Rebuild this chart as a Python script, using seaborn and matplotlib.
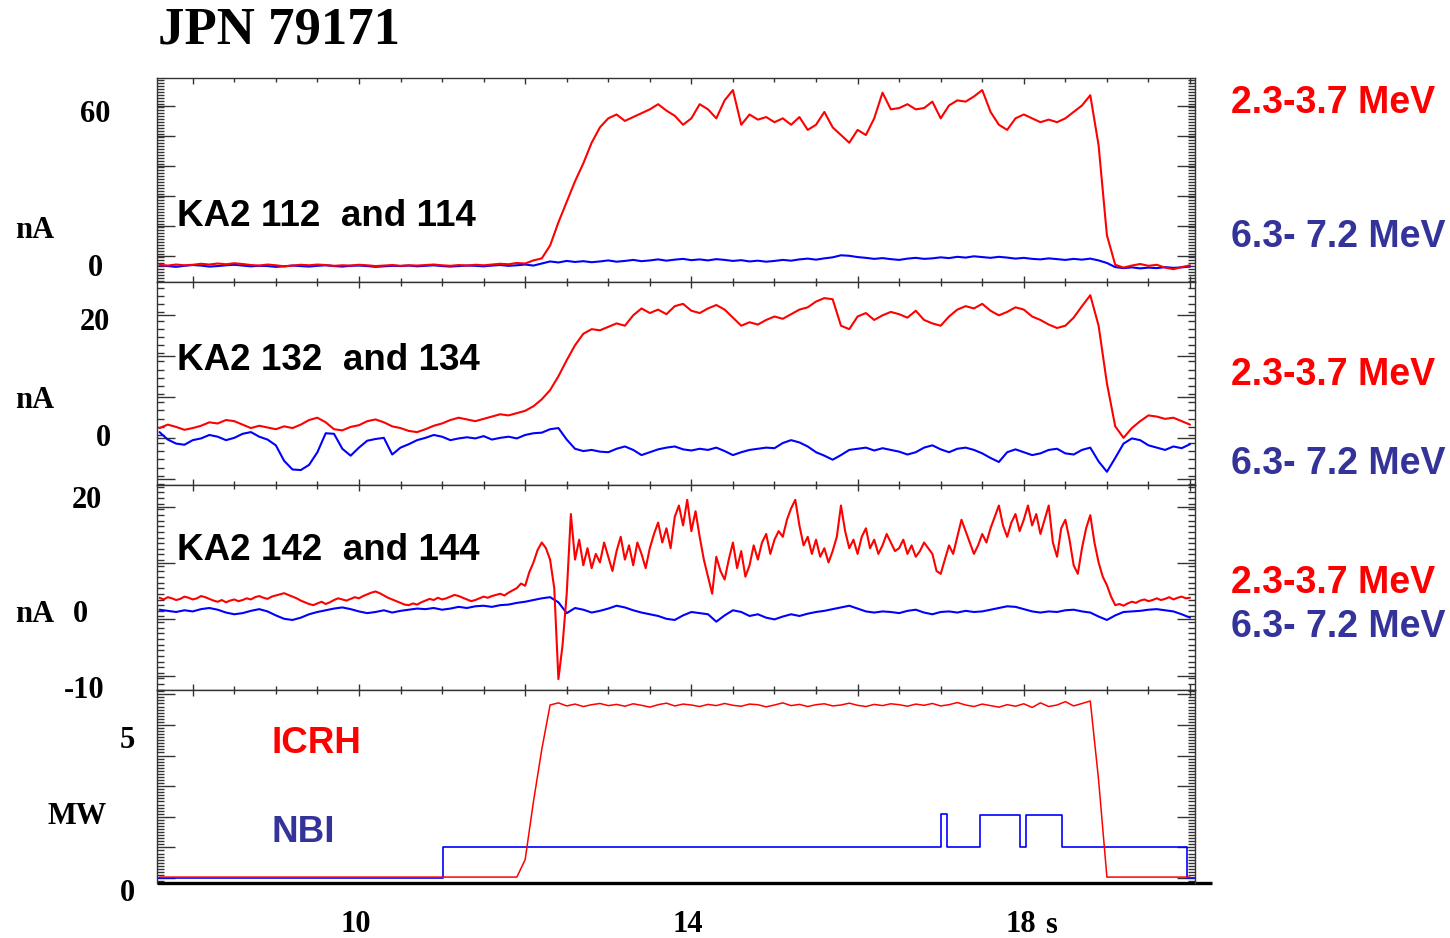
import numpy as np
import pandas as pd
import matplotlib
matplotlib.use("Agg")
import matplotlib.pyplot as plt
from matplotlib.ticker import MultipleLocator, NullFormatter
import matplotlib.transforms as mtransforms
import seaborn as sns

# ---------------------------------------------------------------------------
# Signals (time in s, currents in nA, powers in MW)
# Coarse traces are sampled every 0.1 s from 7.6 s, the fast KA2 142 trace
# every 0.05 s.
# ---------------------------------------------------------------------------
T0 = 7.6
DT = 0.1
DT_FINE = 0.05

# KA2 112 (2.3-3.7 MeV) and KA2 114 (6.3-7.2 MeV)
ka2_112 = [
    0.4, 0.2, 0.6, 0.3, 0.5, 0.9, 0.6, 1.0, 0.7, 1.1,
    0.8, 0.4, 0.2, 0.6, 0.3, -0.1, 0.2, 0.5, 0.3, 0.6,
    0.4, 0.1, 0.3, 0.2, 0.5, 0.3, 0.0, 0.2, 0.4, 0.1,
    0.3, 0.2, 0.4, 0.6, 0.3, 0.1, 0.4, 0.2, 0.5, 0.3,
    0.6, 0.9, 0.7, 1.2, 1.0, 2.2, 3.0, 8.0, 17.0, 25.0,
    33.0, 40.0, 48.0, 54.0, 57.5, 59.0, 56.5, 58.0, 59.5, 61.0,
    63.0, 60.5, 58.5, 55.0, 57.5, 63.0, 61.0, 57.5, 64.5, 68.5,
    55.0, 59.0, 57.0, 58.0, 56.0, 57.5, 55.0, 58.0, 53.0, 55.0,
    60.0, 54.0, 51.0, 48.0, 53.0, 51.0, 57.5, 67.5, 61.0, 61.5,
    63.0, 61.0, 61.5, 64.0, 57.5, 62.5, 64.5, 64.0, 66.0, 68.5,
    60.0, 55.0, 53.0, 57.5, 59.0, 57.5, 56.0, 57.0, 56.0, 57.5,
    60.0, 62.5, 66.5, 47.0, 12.0, 0.5, -0.6, 0.2, 0.8, 0.1,
    0.5, -0.6, -1.2, -0.4, 0.3,
]
ka2_114 = [
    0.3, 0.0, -0.3, 0.1, 0.4, 0.2, -0.2, 0.0, 0.3, 0.5,
    0.2, -0.1, 0.1, 0.0, -0.3, -0.1, 0.2, 0.0, -0.2, 0.1,
    0.3, 0.0, -0.2, 0.1, 0.2, 0.0, -0.3, -0.1, 0.1, 0.0,
    0.2, -0.1, 0.1, 0.3, 0.0, -0.2, 0.0, 0.2, 0.1, -0.1,
    0.2, 0.4, 0.1, 0.3, 0.6, 0.2, 1.0, 1.8, 1.4, 2.0,
    1.6, 1.9, 1.5, 1.8, 2.2, 1.7, 2.0, 2.4, 1.9, 2.2,
    2.6, 2.1, 2.5, 2.8, 2.3, 2.6, 2.2, 2.7, 2.4, 2.0,
    2.3, 1.8, 2.1, 1.7, 2.0, 2.4, 2.1, 2.6, 2.9, 2.5,
    3.0, 3.4, 4.2, 4.0, 3.5, 3.2, 2.8, 3.1, 2.7, 2.4,
    2.9, 3.2, 2.8, 3.0, 3.4, 3.1, 3.6, 3.3, 3.8, 3.5,
    3.2, 3.6, 3.3, 2.9, 3.2, 2.8, 2.6, 3.0, 2.7, 2.4,
    2.8, 2.5, 2.9, 2.2, 1.2, -0.4, -0.8, -0.5, -0.9, -0.6,
    -0.8, -0.4, -0.7, -0.5, -0.2,
]

# KA2 132 (2.3-3.7 MeV) and KA2 134 (6.3-7.2 MeV)
ka2_132 = [
    1.2, 1.8, 1.4, 0.9, 1.2, 1.6, 2.2, 2.0, 2.6, 2.4,
    1.8, 1.2, 1.6, 1.3, 1.0, 1.5, 1.2, 1.8, 2.6, 3.0,
    2.2, 1.0, 0.8, 1.4, 1.7, 2.4, 2.7, 2.2, 1.5, 1.2,
    0.7, 0.5, 1.0, 1.6, 2.0, 2.6, 3.0, 2.7, 2.4, 2.8,
    3.2, 3.6, 3.4, 3.8, 4.2, 5.0, 6.2, 7.8, 10.2, 13.0,
    15.6, 17.6, 18.4, 18.2, 18.8, 19.4, 19.0, 20.8, 22.0, 21.2,
    21.8, 21.0, 22.4, 22.8, 21.6, 21.2, 22.0, 22.6, 21.8, 20.4,
    19.0, 19.6, 19.2, 20.0, 20.6, 20.2, 21.0, 21.8, 22.2, 23.2,
    23.8, 23.6, 19.0, 18.4, 20.6, 21.2, 20.0, 20.8, 21.4, 21.0,
    20.4, 21.6, 20.0, 19.4, 19.0, 20.6, 21.8, 22.4, 22.0, 22.8,
    21.6, 20.8, 21.4, 22.2, 21.8, 20.6, 20.0, 19.2, 18.6, 19.0,
    20.4, 22.4, 24.3, 19.0, 9.0, 1.5, -0.5, 1.2, 2.4, 3.4,
    3.2, 2.8, 3.0, 2.4, 1.8,
]
ka2_134 = [
    0.5, -0.8, -1.5, -1.7, -0.9, -0.6, 0.0, -0.3, -0.9, -0.5,
    0.2, 0.5, -0.3, -0.8, -1.8, -4.5, -6.0, -6.1, -5.2, -3.0,
    0.3, 0.2, -2.4, -3.6, -2.2, -1.0, -0.7, -0.5, -3.4, -2.2,
    -1.6, -0.9, -0.5, 0.0, -0.3, -0.9, -0.6, -0.4, -0.6, -0.2,
    -0.8, -0.5, -0.3, -0.6, 0.0, 0.3, 0.4, 1.0, 1.2, -0.8,
    -2.4, -2.8, -2.6, -2.9, -3.0, -2.4, -2.0, -2.6, -3.5, -3.0,
    -2.5, -2.2, -2.0, -2.5, -2.7, -2.4, -2.6, -2.2, -2.8, -3.5,
    -3.0, -2.6, -2.4, -2.2, -2.3, -1.4, -0.9, -1.3, -2.0, -3.0,
    -3.6, -4.3, -3.5, -2.6, -2.4, -2.2, -2.7, -2.3, -2.6, -2.9,
    -3.4, -3.0, -2.2, -1.8, -2.5, -3.0, -2.4, -2.2, -2.6, -3.2,
    -4.0, -4.7, -3.0, -2.5, -3.0, -3.5, -3.2, -2.6, -2.4, -3.2,
    -3.4, -2.6, -2.2, -4.6, -6.4, -4.0, -1.5, -0.6, -0.9, -1.8,
    -2.2, -2.6, -2.0, -2.3, -1.6,
]

# KA2 142 (2.3-3.7 MeV, 0.05 s samples) and KA2 144 (6.3-7.2 MeV)
ka2_142 = [
    2.3, 2.0, 2.4, 2.2, 1.9, 2.1, 2.5, 2.3, 2.0, 2.2,
    2.6, 2.4, 2.1, 1.8, 1.6, 1.9, 1.5, 1.8, 2.0, 1.7,
    1.9, 2.2, 2.0, 2.4, 2.6, 2.3, 2.1, 2.5, 2.7, 2.9,
    3.1, 2.8, 2.5, 2.2, 1.8, 1.5, 1.2, 1.0, 1.3, 1.6,
    1.2, 1.5, 1.9, 2.2, 2.0, 1.8, 2.1, 2.4, 2.2, 2.6,
    2.9, 3.2, 3.4, 3.1, 2.7, 2.3, 2.0, 1.7, 1.4, 1.1,
    1.0, 1.3, 1.1, 1.5, 1.8, 2.1, 1.9, 2.3, 2.0, 2.2,
    2.5, 2.8, 2.6, 2.3, 2.0, 1.7, 1.9, 2.2, 2.5, 2.3,
    2.6, 2.8, 3.0, 2.7, 3.2, 3.6, 4.0, 4.8, 4.4, 6.8,
    8.5, 10.7, 12.0, 11.0, 9.0, 4.0, -12.0, -6.0, 3.0, 17.0,
    9.0, 12.5, 8.0, 11.0, 7.5, 10.0, 8.5, 12.0, 9.5, 7.0,
    10.5, 13.0, 9.0, 11.5, 8.0, 12.0, 10.0, 7.5, 11.0, 13.5,
    15.5, 12.0, 14.5, 11.0, 16.5, 18.5, 15.0, 19.5, 14.0, 17.5,
    13.0, 9.0, 6.0, 3.0, 9.5, 7.0, 5.5, 9.0, 12.0, 7.5,
    10.5, 6.0, 8.0, 11.5, 9.0, 12.0, 13.5, 10.0, 12.5, 14.0,
    13.0, 16.0, 18.0, 19.5, 15.0, 11.5, 13.0, 10.0, 12.5, 9.5,
    11.0, 8.5, 10.5, 13.0, 18.5, 14.0, 11.0, 12.5, 10.0, 13.0,
    14.5, 11.0, 12.5, 10.0, 11.5, 13.5, 12.0, 10.5, 11.0, 12.5,
    10.0, 11.5, 9.5, 10.5, 12.0, 11.0, 10.0, 7.0, 6.5, 9.0,
    11.5, 10.0, 13.0, 16.0, 14.0, 12.0, 10.0, 11.5, 13.5, 12.0,
    14.5, 16.5, 18.5, 15.0, 13.0, 15.5, 17.0, 14.0, 16.0, 18.5,
    15.0, 17.0, 13.5, 16.0, 18.5, 12.0, 9.5, 14.5, 16.0, 12.5,
    8.0, 6.5, 11.0, 14.5, 16.8, 12.0, 8.5, 6.0, 4.5, 2.5,
    1.0, 1.2, 0.9, 1.3, 1.6, 1.4, 1.8, 2.0, 1.7, 1.9,
    2.2, 1.9, 2.1, 2.4, 2.0, 2.3, 2.5, 2.2, 2.3,
]
ka2_144 = [
    0.2, 0.0, -0.2, 0.1, -0.1, 0.3, 0.5, 0.2, -0.3, -0.6,
    -0.4, 0.0, 0.3, -0.1, -0.8, -1.4, -1.6, -1.2, -0.6, -0.2,
    0.1, 0.4, 0.6, 0.3, -0.1, -0.4, -0.2, 0.1, -0.3, 0.0,
    0.2, 0.4, 0.3, 0.5, 0.2, 0.4, 0.7, 0.5, 0.8, 0.9,
    0.7, 1.0, 1.1, 1.4, 1.6, 1.9, 2.2, 2.4, 1.5, -0.4,
    0.5, 0.2, -0.3, 0.0, 0.4, 0.9, 0.6, 0.1, -0.3, -0.6,
    -0.9, -1.4, -1.6, -0.8, -0.2, -0.4, -0.6, -1.9, -0.8, 0.1,
    -0.2, -0.9, -0.6, -1.2, -1.5, -1.0, -0.6, -0.9, -0.5, -0.2,
    0.0, 0.3, 0.6, 0.9, 0.4, -0.1, -0.3, -0.1, -0.2, -0.4,
    0.0, 0.2, -0.3, -0.6, -0.2, -0.1, -0.3, 0.0, -0.2, -0.1,
    0.2, 0.5, 0.8, 0.7, 0.3, -0.1, -0.3, -0.1, -0.2, 0.1,
    0.2, -0.1, -0.3, -1.0, -1.6, -0.8, -0.2, -0.1, 0.0, 0.2,
    0.3, 0.1, -0.1, -0.6, -1.2,
]

# Heating powers
icrh_mw = [
    0.03, 0.03, 0.03, 0.03, 0.03, 0.03, 0.03, 0.03, 0.03, 0.03,
    0.03, 0.03, 0.03, 0.03, 0.03, 0.03, 0.03, 0.03, 0.03, 0.03,
    0.03, 0.03, 0.03, 0.03, 0.03, 0.03, 0.03, 0.03, 0.03, 0.03,
    0.03, 0.03, 0.03, 0.03, 0.03, 0.03, 0.03, 0.03, 0.03, 0.03,
    0.03, 0.03, 0.03, 0.03, 0.6, 2.5, 4.2, 5.65, 5.72, 5.62,
    5.68, 5.60, 5.66, 5.70, 5.63, 5.67, 5.61, 5.69, 5.64, 5.58,
    5.66, 5.71, 5.62, 5.68, 5.65, 5.60, 5.67, 5.63, 5.70, 5.64,
    5.61, 5.68, 5.66, 5.59, 5.65, 5.72, 5.63, 5.67, 5.60, 5.66,
    5.69, 5.62, 5.65, 5.71, 5.64, 5.60, 5.67, 5.63, 5.69, 5.66,
    5.61, 5.68, 5.64, 5.70, 5.62, 5.66, 5.73, 5.65, 5.60, 5.68,
    5.63, 5.58, 5.66, 5.61, 5.69, 5.57, 5.72, 5.60, 5.65, 5.76,
    5.62, 5.70, 5.78, 3.2, 0.03, 0.03, 0.03, 0.03, 0.03, 0.03,
    0.03, 0.03, 0.03, 0.03, 0.03,
]
nbi_time = [7.57, 11.01, 17.0, 17.08, 17.47, 17.96, 18.03, 18.46, 19.96, 20.06]
nbi_mw = [0.0, 1.0, 2.08, 1.0, 2.05, 1.0, 2.05, 1.0, 0.0, 0.0]

# Axis annotations
x_tick_values = [10, 14, 18]
x_tick_labels = ["10", "14", "18"]
panel_titles = ["KA2 112  and 114", "KA2 132  and 134", "KA2 142  and 144"]
energy_low = "2.3-3.7 MeV"
energy_high = "6.3- 7.2 MeV"


def frame(values, step):
    t = np.round(T0 + step * np.arange(len(values)), 3)
    return pd.DataFrame({"t": t, "v": values})


RED = "#ff0000"
BLUE = "#0000ff"
NAVY = "#333399"
AXC = "#333333"
W, H = 1450, 938

sns.set_theme(style="white")
plt.rcParams["font.family"] = ["Liberation Sans", "DejaVu Sans"]
plt.rcParams["text.color"] = "black"

fig = plt.figure(figsize=(W / 100, H / 100), dpi=100)


def rect(top, bottom, left=157, right=1195):
    return [left / W, 1 - bottom / H, (right - left) / W, (bottom - top) / H]


def ftext(x, y, s, **kw):
    # y is the visual centre of the text in pixels from the top
    fig.text(x / W, 1 - (y + 3) / H, s, **kw)


XLIM = (7.57, 20.06)
panels = [
    dict(r=rect(78, 282), ylim=(-6.2, 73.2), maj=(11.7, 3.9), mnr=1.17),
    dict(r=rect(282, 485), ylim=(-8.7, 26.6), maj=(7.1, 6.6), mnr=1.42),
    dict(r=rect(485, 690), ylim=(-13.9, 22.1), maj=(9.9, 8.4), mnr=0.99),
    dict(r=rect(690, 883), ylim=(-0.163, 6.14), maj=(1.0, 0.0), mnr=0.1),
]
axes = []
for p in panels:
    ax = fig.add_axes(p["r"])
    ax.set_xlim(*XLIM)
    ax.set_ylim(*p["ylim"])
    ax.xaxis.set_major_locator(MultipleLocator(2))
    ax.xaxis.set_minor_locator(MultipleLocator(0.5))
    ax.yaxis.set_major_locator(MultipleLocator(p["maj"][0], offset=p["maj"][1]))
    ax.yaxis.set_minor_locator(MultipleLocator(p["mnr"]))
    ax.tick_params(axis="y", which="both", direction="in", left=True, right=True,
                   labelleft=False, color=AXC, width=1.0)
    ax.tick_params(axis="y", which="major", length=13)
    ax.tick_params(axis="y", which="minor", length=5)
    ax.tick_params(axis="x", which="both", direction="in", top=True, bottom=True,
                   labelbottom=False, color=AXC, width=1.0)
    ax.tick_params(axis="x", which="major", length=4.5)
    ax.tick_params(axis="x", which="minor", length=3)
    ax.xaxis.set_major_formatter(NullFormatter())
    for s in ax.spines.values():
        s.set_color(AXC)
        s.set_linewidth(1.0)
    ax.grid(False)
    axes.append(ax)

pairs = [(ka2_112, ka2_114), (ka2_132, ka2_134), (ka2_142, ka2_144)]
for k, (ax, (lo, hi)) in enumerate(zip(axes[:3], pairs)):
    lo_step = DT_FINE if k == 2 else DT
    sns.lineplot(data=frame(hi, DT), x="t", y="v", ax=ax, color=BLUE,
                 lw=1.5, estimator=None)
    sns.lineplot(data=frame(lo, lo_step), x="t", y="v", ax=ax, color=RED,
                 lw=1.5, estimator=None)
    ax.set_xlabel("")
    ax.set_ylabel("")

ax4 = axes[3]
sns.lineplot(x=nbi_time, y=nbi_mw, ax=ax4, color=BLUE, lw=1.2,
             estimator=None, drawstyle="steps-post")
sns.lineplot(data=frame(icrh_mw, DT), x="t", y="v", ax=ax4, color=RED,
             lw=1.1, estimator=None)
ax4.set_xlabel("")
ax4.set_ylabel("")
ax4.tick_params(axis="x", which="both", bottom=False)
ax4.spines["bottom"].set_visible(False)
ax4.plot([0, 1.0164], [0, 0], transform=ax4.transAxes, color="black",
         lw=2.4, clip_on=False, solid_capstyle="butt")

# Time labels under the bottom panel
trans = mtransforms.blended_transform_factory(ax4.transData, ax4.transAxes)
for xv, lab in zip(x_tick_values, x_tick_labels):
    ax4.text(xv - 0.04, -0.215, lab, transform=trans, ha="center", va="center",
             family="Liberation Serif", weight="bold", fontsize=22)
ftext(1051, 922, "s", ha="center", va="center",
      family="Liberation Serif", weight="bold", fontsize=22)

# Title
ftext(158, 28, "JPN 79171", ha="left", va="center",
      family="Liberation Serif", weight="bold", fontsize=38)

# Left-hand scale labels
serif = dict(family="Liberation Serif", weight="bold", fontsize=22,
             ha="center", va="center")
for (x, y, s) in [(95, 112, "60"), (35, 228, "nA"), (95, 266, "0"),
                  (95, 320, "20"), (35, 398, "nA"), (103, 435, "0"),
                  (87, 497, "20"), (35, 611, "nA"), (80, 611, "0"),
                  (84, 688, "-10"), (127, 737, "5"), (77, 813, "MW"),
                  (127, 890, "0")]:
    ftext(x, y, s, **serif)

# Detector names
for y, s in zip([213, 357, 548], panel_titles):
    ftext(177, y, s, ha="left", va="center", weight="bold", fontsize=26.5)

# Energy windows
for y, s, c in [(100, energy_low, RED), (234, energy_high, NAVY),
                (372, energy_low, RED), (461, energy_high, NAVY),
                (580, energy_low, RED), (624, energy_high, NAVY)]:
    ftext(1231, y, s, ha="left", va="center", weight="bold", fontsize=27,
          color=c)

# Heating labels
ftext(271, 740, "ICRH", ha="left", va="center", weight="bold", fontsize=26.5,
      color=RED)
ftext(271, 829, "NBI", ha="left", va="center", weight="bold", fontsize=26.5,
      color=NAVY)

fig.savefig("out.png", dpi=100, facecolor="white")
